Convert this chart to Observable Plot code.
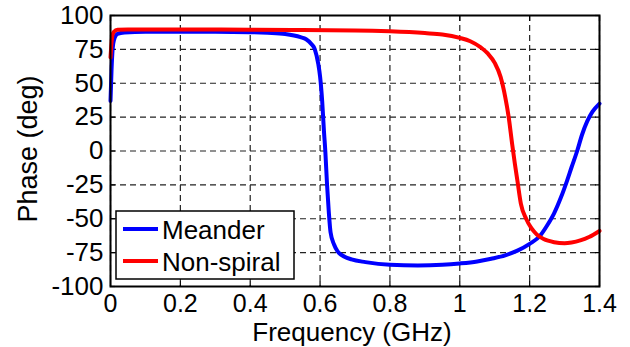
<!DOCTYPE html>
<html><head><meta charset="utf-8">
<script src="https://cdn.jsdelivr.net/npm/d3@7"></script>
<script src="https://cdn.jsdelivr.net/npm/@observablehq/plot@0.6"></script>
<style>html,body{margin:0;padding:0;background:#fff;} svg{display:block;}</style>
</head><body><div id="chart"></div>
<script>
const seriesNames = ["Meander", "Non-spiral"];
const seriesColors = ["#0000ff", "#ff0000"];
const xTicks = [0, 0.2, 0.4, 0.6, 0.8, 1, 1.2, 1.4];
const yTicks = [-100, -75, -50, -25, 0, 25, 50, 75, 100];

const meanderFreq = [0, 0.003, 0.006, 0.01, 0.02, 0.04, 0.1, 0.2, 0.3, 0.4, 0.45, 0.5, 0.544, 0.56, 0.575, 0.585, 0.595, 0.6, 0.606, 0.611, 0.615, 0.62, 0.625, 0.63, 0.64, 0.65, 0.67, 0.69, 0.73, 0.8, 0.88, 0.95, 1.0, 1.05, 1.09, 1.13, 1.165, 1.2, 1.23, 1.25, 1.27, 1.29, 1.307, 1.32, 1.336, 1.35, 1.365, 1.38, 1.4];
const meanderPhase = [37, 60, 75, 82, 86.5, 87.5, 88, 88, 88, 87.7, 87.2, 86.3, 84, 82.5, 79, 75, 64, 55, 37, 15, 0, -25, -45, -60, -69, -74, -78, -80, -82, -84, -84.5, -84, -83, -81.5, -79.5, -77, -73.5, -68.5, -62.5, -55, -46, -34, -22, -12, 0, 12, 22, 29, 35];

const nonSpiralFreq = [0, 0.003, 0.006, 0.01, 0.02, 0.05, 0.2, 0.3, 0.4, 0.55, 0.7, 0.8, 0.9, 0.95, 1.0, 1.03, 1.06, 1.08, 1.1, 1.117, 1.13, 1.14, 1.15, 1.158, 1.165, 1.175, 1.19, 1.205, 1.22, 1.24, 1.27, 1.3, 1.32, 1.345, 1.37, 1.4];
const nonSpiralPhase = [69, 80, 86, 88, 89.5, 89.7, 89.7, 89.7, 89.5, 89.3, 89, 88.3, 87, 86, 83.5, 81, 76.5, 72, 65, 54.5, 40, 25, 5, -10, -22, -39, -50, -57, -61.5, -65, -67.3, -68, -67.5, -66, -63.5, -59];

const rows = [
  ...meanderFreq.map((f, i) => ({series: seriesNames[0], f, p: meanderPhase[i]})),
  ...nonSpiralFreq.map((f, i) => ({series: seriesNames[1], f, p: nonSpiralPhase[i]}))
];

const font = "'Liberation Sans', Arial, Helvetica, sans-serif";
const gridStyle = {stroke: "#222", strokeOpacity: 1, strokeDasharray: "6,4", strokeWidth: 1.2};
const fmt = d => String(d);
const blank = () => "";

const plot = Plot.plot({
  width: 630, height: 347,
  marginLeft: 110, marginRight: 31, marginTop: 15, marginBottom: 61,
  style: {fontFamily: font, background: "white", color: "black", overflow: "visible"},
  x: {domain: [0, 1.4]},
  y: {domain: [-100, 100]},
  color: {domain: seriesNames, range: seriesColors},
  marks: [
    Plot.gridX(xTicks, gridStyle),
    Plot.gridY(yTicks, gridStyle),
    Plot.axisX(xTicks, {anchor: "bottom", tickSize: 0, tickPadding: 8, fontSize: 25, tickFormat: fmt, label: null}),
    Plot.axisY(yTicks, {anchor: "left", tickSize: 0, tickPadding: 7, fontSize: 26, tickFormat: fmt, label: null}),
    Plot.axisX(xTicks, {anchor: "bottom", tickSize: -5, tickFormat: blank, label: null, strokeWidth: 1.2}),
    Plot.axisX(xTicks, {anchor: "top", tickSize: -5, tickFormat: blank, label: null, strokeWidth: 1.2}),
    Plot.axisY(yTicks, {anchor: "left", tickSize: -5, tickFormat: blank, label: null, strokeWidth: 1.2}),
    Plot.axisY(yTicks, {anchor: "right", tickSize: -5, tickFormat: blank, label: null, strokeWidth: 1.2}),
    Plot.line(rows, {x: "f", y: "p", z: "series", stroke: "series", strokeWidth: 4, curve: "monotone-x"}),
    Plot.frame({stroke: "black", strokeWidth: 2})
  ]
});

const svg = d3.select(plot);
svg.append("text")
  .attr("x", 352).attr("y", 341)
  .attr("text-anchor", "middle")
  .attr("font-family", font).attr("font-size", 26).attr("fill", "black")
  .text("Frequency (GHz)");
svg.append("text")
  .attr("transform", "translate(37,149) rotate(-90)")
  .attr("text-anchor", "middle")
  .attr("font-family", font).attr("font-size", 27).attr("fill", "black")
  .text("Phase (deg)");

const lg = svg.append("g");
lg.append("rect")
  .attr("x", 116).attr("y", 211).attr("width", 178).attr("height", 68)
  .attr("fill", "white").attr("stroke", "black").attr("stroke-width", 1.5);
const legendRows = [{y: 229, base: 238.5}, {y: 261, base: 270.5}];
seriesNames.forEach((name, i) => {
  lg.append("line")
    .attr("x1", 123).attr("x2", 158).attr("y1", legendRows[i].y).attr("y2", legendRows[i].y)
    .attr("stroke", seriesColors[i]).attr("stroke-width", 4);
  lg.append("text")
    .attr("x", 162).attr("y", legendRows[i].base)
    .attr("text-anchor", "start")
    .attr("font-family", font).attr("font-size", 26).attr("fill", "black")
    .text(name);
});

document.getElementById("chart").appendChild(plot);
</script>
</body></html>
